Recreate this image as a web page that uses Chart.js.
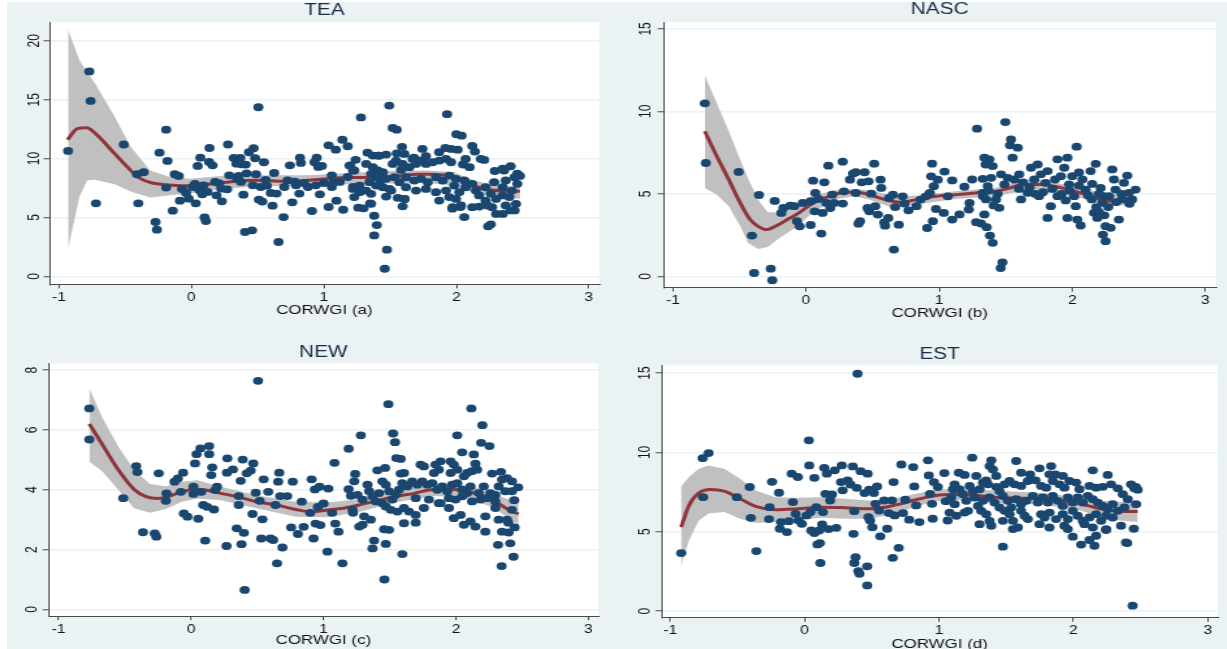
<!DOCTYPE html>
<html>
<head>
<meta charset="utf-8">
<script src="https://cdn.jsdelivr.net/npm/chart.js@4.4.1/dist/chart.umd.min.js"></script>
<style>
  html, body { margin: 0; padding: 0; background: #fff; width: 1227px; height: 649px; overflow: hidden; }
  #bg { position: absolute; left: 7px; top: 2px; right: 0; bottom: 0; background: #eaf2f3; }
  canvas { position: absolute; transform-origin: 0 0; }
</style>
</head>
<body>
<div id="bg"></div>
<canvas id="tea"></canvas>
<canvas id="nasc"></canvas>
<canvas id="new"></canvas>
<canvas id="est"></canvas>
<script>
// ---- shared axis ticks ----
const xTicks = [-1, 0, 1, 2, 3];
const teaYTicks = [0, 5, 10, 15, 20];
const nascYTicks = [0, 5, 10, 15];
const newYTicks = [0, 2, 4, 6, 8];
const estYTicks = [0, 5, 10, 15];

// ---- TEA ----
const teaPoints = [[-0.93,10.65],[-0.77,17.4],[-0.76,14.9],[-0.72,6.2],[-0.51,11.2],[-0.41,8.67],[-0.36,8.84],[-0.40,6.2],[-0.19,12.46],[-0.27,4.62],[-0.26,3.97],[-0.24,10.5],[-0.18,9.8],[-0.19,7.54],[-0.14,5.58],[-0.125,8.67],[-0.095,8.53],[-0.086,6.43],[-0.07,7.42],[-0.04,7.08],[-0.02,6.6],[0.027,7.85],[0.033,6.2],[0.048,9.38],[0.068,10.08],[0.083,6.97],[0.10,5.01],[0.11,4.7],[0.137,10.9],[0.134,9.72],[0.16,9.43],[0.19,6.88],[0.21,7.9],[0.23,6.37],[0.27,7.39],[0.277,11.2],[0.286,8.58],[0.32,10.06],[0.34,9.57],[0.357,8.53],[0.37,10.06],[0.38,9.52],[0.393,6.94],[0.405,3.77],[0.41,9.49],[0.417,8.75],[0.435,10.54],[0.458,3.91],[0.47,10.88],[0.482,10.03],[0.488,8.67],[0.506,14.36],[0.51,6.52],[0.536,6.35],[0.548,9.69],[0.56,8.2],[0.57,7.7],[0.6,7.08],[0.613,6.0],[0.625,8.78],[0.658,2.92],[0.696,5.04],[0.726,8.16],[0.744,9.43],[0.762,6.29],[0.78,8.05],[0.815,7.03],[0.82,10.08],[0.827,9.63],[0.85,7.93],[0.91,5.55],[0.93,9.69],[0.946,10.08],[0.958,9.29],[0.97,6.97],[0.985,9.38],[1.0,7.93],[1.036,11.13],[1.036,5.89],[1.06,8.58],[1.074,8.0],[1.09,10.76],[1.095,6.43],[1.14,11.6],[1.146,5.66],[1.18,11.05],[1.2,9.43],[1.24,9.9],[1.28,13.5],[1.26,5.83],[1.3,5.78],[1.33,10.5],[1.35,6.2],[1.38,5.15],[1.38,3.48],[1.4,4.36],[1.41,10.25],[1.43,8.16],[1.46,0.65],[1.476,2.27],[1.47,10.34],[1.494,14.5],[1.52,12.6],[1.55,12.46],[1.59,11.0],[1.595,5.95],[1.61,6.57],[1.68,10.08],[1.744,10.82],[1.77,10.2],[1.93,13.77],[2.0,12.07],[2.04,11.95],[1.97,5.75],[2.06,5.04],[2.12,11.08],[2.03,5.89],[2.24,4.25],[2.26,4.42],[2.29,8.95],[2.35,9.15],[2.41,9.35],[2.35,5.3],[2.3,5.3],[2.44,5.6],[2.46,8.72],[2.48,8.53],
  [0.009,7.59],[0.062,7.31],[0.092,7.73],[0.122,7.17],[0.18,8.02],[0.226,7.45],[0.345,8.3],[0.375,8.02],[0.464,7.73],[0.524,7.59],[0.643,7.03],[0.702,7.59],[0.79,7.73],[0.88,7.59],[0.94,7.73],[1.06,7.59],[1.12,8.02],[1.18,8.44],[1.22,7.59],[1.22,9.0],
  [2.14,10.6],[1.37,10.26],[1.42,10.26],[1.608,10.4],[1.55,10.45],[1.87,10.54],[1.917,10.9],[1.96,10.82],[2.01,10.76],[2.07,9.97],[2.05,9.5],[2.1,9.27],[2.185,9.97],[2.21,9.89],[2.36,8.99],[2.44,8.42],[2.46,7.86],[1.194,9.41],[1.23,8.99],
  [1.32,9.55],[1.37,9.27],[1.407,8.99],[1.357,8.7],[1.395,8.42],[1.445,8.84],[1.47,8.28],[1.345,8.0],[1.395,7.71],[1.445,7.57],[1.495,7.43],[1.32,7.29],[1.27,7.71],[1.22,7.43],[1.23,6.73],[1.27,7.15],[1.357,7.01],[1.47,6.78],[1.508,7.29],[1.558,6.67],[1.608,6.58],[1.357,6.16],
  [1.52,9.55],[1.545,9.83],[1.595,9.55],[1.583,9.04],[1.646,9.27],[1.696,9.55],[1.67,9.97],[1.733,9.83],[1.771,9.55],[1.821,9.69],[1.871,9.83],[1.922,9.97],[1.96,9.69],
  [1.533,8.42],[1.57,8.0],[1.62,8.42],[1.683,8.14],[1.733,8.28],[1.784,8.0],[1.846,8.42],[1.897,8.14],[1.947,8.56],[1.997,8.28],[2.06,8.14],
  [1.62,7.57],[1.696,7.29],[1.771,7.43],[1.846,7.15],[1.922,7.29],[1.984,7.71],[2.022,7.15],[2.07,7.57],
  [1.871,6.44],[1.972,5.88],[2.035,6.02],[1.947,6.73],[1.997,6.58],
  [2.12,7.86],[2.147,7.29],[2.172,6.87],[2.22,6.44],[2.26,7.01],[2.30,6.58],[2.35,6.87],[2.40,6.73],[2.42,7.29],[2.22,7.57],[2.285,8.0],[2.35,7.57],[2.373,8.14],
  [2.12,5.88],[2.172,5.93],[2.235,6.02],[2.27,5.88],[2.373,6.02],[2.41,5.6],[2.45,6.16]];
const teaFitX = [-0.935,-0.86,-0.79,-0.71,-0.577,-0.458,-0.384,-0.295,-0.19,-0.042,0.107,0.286,0.494,0.70,0.88,1.03,1.18,1.38,1.536,1.714,1.83,1.98,2.07,2.16,2.28,2.40,2.48];
const teaFitY = [11.6,12.55,12.63,11.98,10.4,9.0,8.3,7.93,7.79,7.7,7.82,8.02,8.16,8.07,8.16,8.3,8.39,8.39,8.5,8.67,8.67,8.44,8.02,7.59,7.31,7.25,7.22];
const teaBandX = [-0.93,-0.845,-0.786,-0.726,-0.577,-0.458,-0.31,-0.16,-0.012,0.196,0.494,0.88,1.18,1.476,1.77,1.98,2.13,2.28,2.48];
const teaBandHi = [20.96,18.36,17.36,16.37,13.54,11.0,9.0,8.44,8.3,8.5,8.58,8.58,8.78,8.95,9.0,8.87,8.16,7.73,7.59];
const teaBandLo = [2.35,6.74,8.16,8.2,7.82,7.2,6.69,6.88,7.03,7.37,7.65,7.7,7.82,7.88,7.93,7.73,7.08,6.8,6.6];

// ---- NASC ----
const nascPoints = [[-0.76,10.49],[-0.753,6.87],[-0.506,6.33],[-0.406,2.47],[-0.39,0.2],[-0.353,4.93],[-0.265,0.46],[-0.253,-0.24],[-0.235,4.57],[-0.185,3.84],[-0.17,4.14],[-0.118,4.29],[-0.088,4.25],[-0.068,3.34],[-0.047,3.03],[-0.024,4.45],[0.035,3.11],[0.035,4.55],[0.053,5.8],[0.07,5.05],[0.065,3.94],[0.094,4.69],[0.115,2.59],[0.124,3.84],[0.138,5.7],[0.153,4.45],[0.168,6.71],[0.182,4.14],[0.197,4.95],[0.212,4.45],[0.276,6.95],[0.276,4.41],[0.285,5.15],[0.33,5.86],[0.353,6.23],[0.374,6.31],[0.374,5.05],[0.394,3.19],[0.406,3.34],[0.418,5.7],[0.44,6.31],[0.462,4.14],[0.47,5.76],[0.476,3.94],[0.49,5.01],[0.512,6.83],[0.52,4.25],[0.54,3.74],[0.56,5.86],[0.565,5.36],[0.588,3.27],[0.594,3.07],[0.618,3.54],[0.624,4.75],[0.66,1.62],[0.653,4.95],[0.67,4.2],[0.697,3.13],[0.726,4.85],[0.74,4.41],[0.77,4.0],[0.83,4.25],[0.86,4.65],[0.9,4.85],[0.91,2.93],[0.93,5.05],[0.947,6.83],[0.953,3.34],[0.94,6.06],[0.96,5.46],[0.976,4.08],[0.99,5.86],[1.035,3.84],[1.04,6.35],[1.065,4.85],
  [1.098,5.81],[1.098,3.44],[1.153,3.75],[1.19,5.43],[1.228,4.45],[1.223,4.05],[1.248,5.87],[1.278,3.28],[1.315,3.2],[1.328,5.91],[1.328,5.06],[1.34,7.19],[1.35,6.78],[1.378,7.09],[1.402,6.68],[1.39,5.97],[1.365,5.47],[1.352,4.66],[1.34,3.75],[1.357,2.98],[1.382,2.47],[1.402,2.03],[1.427,4.66],[1.452,4.15],[1.465,6.18],[1.49,5.57],[1.515,5.97],[1.54,8.3],[1.532,7.94],[1.59,7.8],[1.552,7.19],[1.565,5.87],[1.602,6.18],[1.615,4.66],[1.664,5.06],[1.69,6.58],[1.714,5.87],[1.74,6.78],[1.75,4.86],[1.764,6.18],[1.8,5.67],[1.814,6.38],[1.814,3.54],[1.839,4.25],[1.871,5.87],[1.889,7.09],[1.889,4.86],[1.914,6.07],[1.94,6.58],[1.964,7.19],[1.964,3.54],[1.976,5.57],[2.0,6.07],[2.014,4.86],[2.026,4.25],[2.033,7.86],[2.038,3.44],[2.063,3.08],[2.076,5.87],[2.1,5.26],[2.138,6.38],[2.146,4.66],[2.163,3.85],[2.176,6.82],[2.188,3.54],[2.213,5.36],[2.226,4.45],[2.23,2.53],[2.238,4.86],[2.25,3.04],[2.25,2.13],[2.276,4.86],[2.288,2.94],[2.3,6.48],[2.313,5.87],[2.325,5.26],[2.35,3.44],[2.375,4.66],[2.388,5.67],[2.413,6.11],[2.425,5.06],[2.45,4.66],[2.475,5.26],[1.285,8.95],[1.497,9.35],[1.462,0.5],[1.476,0.85],
  [1.33,4.86],[1.37,5.2],[1.41,4.3],[1.44,5.0],[1.60,5.3],[1.63,5.7],[1.68,5.4],[1.72,5.0],[1.78,5.1],[1.85,5.3],[1.92,5.0],[1.95,4.6],[2.05,5.5],[2.12,4.9],[2.18,4.2],[2.2,3.9],[2.24,3.7],[2.27,4.2],[2.33,4.5],[2.37,5.0],[2.43,4.4],[2.2,5.0],[2.15,5.6],[2.05,6.3],[1.98,5.2]];
const nascFitX = [-0.76,-0.67,-0.58,-0.494,-0.42,-0.36,-0.294,-0.23,-0.14,-0.053,0.035,0.124,0.21,0.3,0.388,0.476,0.594,0.71,0.83,0.976,1.12,1.27,1.418,1.535,1.62,1.77,1.92,2.065,2.18,2.27,2.36,2.46];
const nascFitY = [8.79,7.28,5.86,4.45,3.44,3.03,2.83,3.03,3.44,3.84,4.35,4.69,4.95,5.09,5.09,4.95,4.65,4.49,4.65,4.85,4.95,5.05,5.15,5.36,5.56,5.56,5.36,5.05,4.75,4.55,4.65,4.75];
const nascBandX = [-0.76,-0.67,-0.58,-0.494,-0.435,-0.36,-0.288,-0.2,-0.082,0.035,0.21,0.36,0.476,0.653,0.83,1.12,1.418,1.62,1.77,2.065,2.27,2.46];
const nascBandHi = [12.17,10.51,8.79,7.07,5.93,4.65,3.88,3.88,4.3,4.83,5.22,5.3,5.22,4.89,4.89,5.15,5.36,5.86,5.86,5.36,4.95,5.09];
const nascBandLo = [5.36,4.95,4.25,3.03,2.02,1.66,1.78,2.32,2.93,3.74,4.65,4.85,4.65,4.14,4.35,4.69,4.85,5.15,5.15,4.75,4.25,4.35];

// ---- NEW ----
const newPoints = [[-0.768,6.72],[-0.768,5.68],[-0.512,3.72],[-0.414,4.79],[-0.405,4.59],[-0.363,2.58],[-0.274,2.54],[-0.262,2.43],[-0.244,4.55],[-0.19,3.63],[-0.185,3.88],[-0.125,4.27],[-0.1,4.38],[-0.077,3.93],[-0.06,4.57],[-0.054,3.21],[-0.027,3.1],[0.018,4.1],[0.03,4.88],[0.018,3.86],[0.042,5.19],[0.054,3.03],[0.071,5.38],[0.077,3.93],[0.092,3.49],[0.107,2.3],[0.122,3.43],[0.137,5.46],[0.137,5.19],[0.152,4.49],[0.16,4.75],[0.173,3.34],[0.182,3.99],[0.196,4.1],[0.268,2.12],[0.274,5.05],[0.271,4.57],[0.316,4.68],[0.345,2.71],[0.36,3.49],[0.36,3.79],[0.375,4.3],[0.381,2.18],[0.39,5.01],[0.399,2.56],[0.405,0.65],[0.42,4.55],[0.45,4.64],[0.47,4.88],[0.464,3.19],[0.488,3.9],[0.506,7.64],[0.518,3.63],[0.53,2.37],[0.539,3.01],[0.548,4.35],[0.583,3.93],[0.6,2.37],[0.62,2.32],[0.637,3.49],[0.649,1.54],[0.658,4.27],[0.666,4.57],[0.673,3.79],[0.69,2.07],[0.726,3.79],[0.756,2.74],[0.768,4.27],[0.807,2.52],[0.836,3.6],[0.85,2.76],[0.9,3.23],[0.91,4.35],[0.925,2.37],[0.935,4.01],[0.94,2.87],[0.958,3.43],[0.97,4.1],[0.976,2.82],[1.0,3.54],[1.03,1.93],[1.036,4.04],[1.065,3.23],[1.083,4.9],[1.089,2.87],[1.113,2.6],
  [1.143,1.54],[1.223,3.23],[1.46,1.0],[1.49,6.86],[2.116,6.72],[2.34,4.6],[2.345,1.45],[2.396,2.9],[2.44,3.65],[2.443,2.74],[2.47,4.08],
  [1.282,5.82],[1.525,5.88],[1.54,5.59],[1.19,5.37],[2.01,5.82],[2.2,6.16],[2.19,5.57],[2.253,5.46],[2.047,5.25],[2.135,5.18],[1.55,5.06],[1.583,5.03],[1.407,4.65],[1.465,4.73],[1.733,4.84],[1.758,4.78],[1.846,4.84],[1.884,4.95],[1.96,4.95],[1.984,4.84],[2.147,4.87],[2.16,4.67],
  [1.239,4.53],[1.232,4.28],[1.445,4.28],[1.583,4.54],[1.608,4.56],[1.834,4.56],[1.871,4.67],[1.96,4.56],[2.01,4.67],[2.06,4.45],[2.085,4.56],[2.12,4.62],[2.273,4.54],[2.348,4.34],[2.386,4.39],[2.423,4.28],
  [1.19,4.02],[1.207,3.8],[1.257,3.83],[1.295,3.67],[1.332,4.17],[1.345,3.95],[1.37,3.78],[1.395,3.61],[1.42,3.89],[1.445,3.55],[1.47,4.17],[1.495,3.95],[1.52,3.67],[1.545,3.83],[1.57,4.0],[1.595,4.22],
  [1.633,4.11],[1.67,4.28],[1.708,4.17],[1.746,4.28],[1.784,4.17],[1.821,4.22],[1.859,4.0],[1.897,4.11],[1.934,3.95],[1.972,4.17],[2.01,4.22],[2.047,4.0],[2.085,3.89],[2.11,4.11],[2.172,3.89],[2.21,4.11],[2.26,3.89],[2.298,3.83],[2.323,4.11],[2.373,3.95],[2.423,3.95],
  [1.696,3.72],[1.796,3.67],[1.871,3.55],[1.947,3.72],[1.997,3.67],[2.047,3.78],[2.122,3.61],[2.185,3.67],[2.235,3.72],[2.298,3.61],
  [1.22,3.33],[1.307,3.11],[1.357,3.0],[1.47,3.44],[1.508,3.33],[1.558,3.27],[1.608,3.39],[1.646,3.27],[1.696,3.16],[1.758,3.39],
  [1.884,3.55],[1.947,3.39],[1.984,3.05],[2.035,3.16],[2.06,2.83],[2.11,2.94],[2.147,2.77],[2.222,3.11],[2.298,3.39],[2.323,3.0],[2.386,3.0],[2.423,3.33],
  [1.27,2.77],[1.295,2.83],[1.458,2.68],[1.495,2.66],[1.608,2.88],[1.696,2.9],[2.222,2.6],[2.348,2.6],[2.398,2.57],
  [1.382,2.3],[1.37,2.04],[1.47,2.19],[1.595,1.85],[2.318,2.16],[2.41,2.21],[2.435,1.76]];
const newFitX = [-0.768,-0.667,-0.548,-0.43,-0.34,-0.25,-0.16,-0.071,0.018,0.107,0.226,0.345,0.494,0.643,0.79,0.91,1.03,1.149,1.268,1.417,1.536,1.685,1.833,1.982,2.13,2.28,2.4,2.473];
const newFitY = [6.2,5.49,4.66,4.01,3.77,3.71,3.79,3.93,4.01,3.99,3.88,3.77,3.6,3.49,3.34,3.26,3.32,3.38,3.49,3.65,3.77,3.88,4.01,4.01,3.9,3.65,3.32,3.19];
const newBandX = [-0.768,-0.667,-0.548,-0.43,-0.31,-0.19,-0.071,0.048,0.226,0.494,0.79,1.03,1.268,1.536,1.833,1.982,2.13,2.28,2.473];
const newBandHi = [7.39,6.38,5.44,4.66,4.19,4.12,4.27,4.32,4.1,3.82,3.6,3.57,3.68,3.93,4.19,4.21,4.1,3.88,3.54];
const newBandLo = [4.94,4.6,3.99,3.38,3.23,3.36,3.6,3.71,3.65,3.38,3.1,3.08,3.26,3.57,3.79,3.77,3.65,3.41,2.82];

// ---- EST ----
const estPoints = [[-0.918,3.66],[-0.758,9.64],[-0.714,9.96],[-0.755,7.18],[-0.504,7.18],[-0.408,7.82],[-0.4,5.88],[-0.359,3.78],[-0.265,5.8],[-0.26,6.55],[-0.242,8.15],[-0.19,7.46],[-0.184,5.19],[-0.175,5.61],[-0.131,4.98],[-0.117,5.67],[-0.096,8.66],[-0.087,6.87],[-0.067,6.13],[-0.05,8.45],[-0.044,5.71],[-0.02,5.5],[0.015,6.03],[0.032,10.76],[0.035,9.18],[0.044,6.24],[0.05,5.08],[0.073,8.4],[0.073,4.92],[0.087,6.55],[0.096,4.2],[0.108,5.08],[0.114,4.29],[0.117,3.03],[0.131,5.46],[0.137,6.24],[0.146,9.03],[0.155,7.39],[0.166,8.66],[0.178,5.17],[0.19,6.97],[0.204,7.35],[0.224,8.87],[0.236,5.25],[0.277,9.18],[0.271,8.13],[0.283,7.61],[0.32,8.24],[0.341,7.98],[0.359,9.12],[0.364,4.87],[0.37,6.3],[0.379,3.4],[0.37,3.03],[0.388,7.77],[0.394,14.96],[0.4,2.52],[0.408,2.35],[0.417,8.82],[0.446,7.44],[0.466,1.62],[0.466,2.82],[0.469,8.66],[0.475,5.92],[0.48,7.65],[0.487,5.71],[0.504,5.29],[0.516,7.44],[0.528,6.76],[0.539,7.86],[0.554,6.34],[0.563,4.71],[0.592,6.97],[0.615,5.19],[0.627,6.18],[0.65,6.97],[0.656,3.36],[0.662,8.13],[0.67,6.03],[0.7,3.99],[0.72,9.24],[0.732,6.18],[0.749,7.02],[0.778,5.76],[0.808,9.08],[0.816,7.86],[0.83,6.66],[0.854,5.61],[0.918,9.5],[0.924,8.55],[0.933,7.39],[0.948,6.76],[0.953,5.82],[0.962,8.13],[0.991,7.82],[1.04,8.7],[1.05,6.93],[1.064,5.71],
  [2.44,0.34],[2.4,4.29],[2.449,5.19],[2.478,7.65],[2.464,7.82],
  [1.247,9.67],[1.389,9.5],[1.376,9.14],[1.401,8.93],[1.148,8.72],[1.19,8.58],[1.277,8.52],[1.351,8.24],[1.364,7.99],[1.426,8.52],[1.574,9.46],[1.611,8.72],[1.678,8.62],[1.748,9.0],[1.834,9.14],[1.866,8.62],[1.921,8.52],[1.822,8.62],[2.144,8.87],[2.255,8.58],
  [1.116,7.99],[1.104,7.68],[1.153,7.68],[1.228,7.89],[1.252,7.57],[1.302,7.68],[1.327,8.1],
  [1.426,7.83],[1.45,7.57],[1.488,7.99],[1.525,8.2],[1.562,7.99],[1.611,7.89],[1.661,8.2],[1.718,8.24],
  [1.76,7.89],[1.797,7.78],[1.847,8.2],[1.896,7.99],[1.933,7.78],[1.971,8.2],[2.02,8.1],[2.045,7.68],
  [2.119,7.89],[2.169,7.78],[2.218,7.83],[2.28,7.99],[2.33,7.74],[2.367,7.37],[2.429,7.99],[2.453,7.74],
  [1.091,7.16],[1.116,6.74],[1.178,7.37],[1.203,6.95],[1.265,7.16],[1.29,6.63],[1.327,6.95],[1.376,7.16],[1.413,6.84],[1.45,6.53],[1.475,7.26],[1.512,6.95],[1.537,6.53],
  [1.574,7.05],[1.611,6.74],[1.649,6.95],[1.698,7.26],[1.735,6.84],[1.772,7.16],[1.81,6.84],[1.847,7.26],[1.884,6.95],[1.921,6.63],[1.958,7.16],[1.995,6.84],[2.032,7.16],[2.07,6.84],[2.107,7.26],[2.144,7.05],
  [2.181,6.84],[2.218,6.63],[2.255,6.42],[2.292,6.74],[2.33,6.32],[2.379,6.53],[2.404,7.05],[2.466,6.74],
  [1.079,6.21],[1.129,6.01],[1.19,6.21],[1.215,6.32],[1.314,6.32],[1.351,6.11],[1.376,5.69],[1.488,6.32],[1.525,6.11],[1.55,5.69],[1.611,6.32],[1.636,6.01],
  [1.76,6.11],[1.785,5.9],[1.822,6.21],[1.871,5.8],[1.921,6.11],[1.958,5.8],[1.995,6.32],[2.032,6.01],[2.07,5.69],[2.119,5.9],[2.169,6.11],[2.206,5.69],[2.243,6.01],[2.292,5.9],
  [1.302,5.48],[1.389,5.38],[1.475,5.69],[1.55,5.17],[1.587,5.27],[1.661,5.8],[1.748,5.48],[1.822,5.27],[1.933,5.38],[1.958,5.17],[2.082,5.48],[2.144,5.27],[2.243,5.17],[2.354,5.38],
  [1.995,4.69],[2.057,4.19],[2.119,4.48],[2.169,4.75],[2.156,4.12],[2.243,5.11],[2.391,4.33],[1.475,4.06]];
const estFitX = [-0.918,-0.86,-0.787,-0.7,-0.598,-0.48,-0.364,-0.219,-0.044,0.131,0.306,0.48,0.598,0.714,0.83,0.977,1.122,1.268,1.414,1.589,1.764,1.91,2.055,2.2,2.347,2.478];
const estFitY = [5.29,6.66,7.44,7.67,7.56,7.08,6.6,6.39,6.45,6.55,6.51,6.45,6.55,6.76,7.02,7.29,7.35,7.29,7.18,7.12,7.08,6.97,6.76,6.45,6.3,6.28];
const estBandX = [-0.918,-0.86,-0.787,-0.714,-0.598,-0.48,-0.364,-0.219,-0.044,0.131,0.306,0.48,0.656,0.83,0.977,1.122,1.414,1.764,2.055,2.2,2.347,2.478];
const estBandHi = [7.86,8.45,8.97,9.18,8.97,8.34,7.6,7.18,7.14,7.18,7.08,6.97,7.08,7.39,7.65,7.71,7.6,7.44,7.18,6.97,6.87,6.87];
const estBandLo = [2.88,4.45,5.71,6.15,6.24,5.82,5.55,5.61,5.76,5.88,5.82,5.82,6.09,6.6,6.93,7.02,6.81,6.72,6.34,5.92,5.71,5.61];

// ---- look ----
const STRETCH = 1.3;   // the original graph was widened horizontally
const FONT = "'Liberation Sans', Arial, sans-serif";
const DOT = '#1a476f';
const FIT = '#90353b';
const BAND = 'rgb(192,192,192)';
const AXIS = '#4a4a4a';
const GRID = '#eaf2f3';

const toXY = (xs, ys) => xs.map((x, i) => ({ x, y: ys[i] }));

const plotBg = {
    id: 'plotBg',
    beforeDraw(chart) {
        const { ctx, chartArea: a } = chart;
        ctx.save();
        ctx.fillStyle = '#fff';
        ctx.fillRect(a.left, a.top, a.right - a.left, a.bottom - a.top);
        ctx.restore();
    }
};

const makePanel = (id, p) => {
    const yAxisW = 28;
    const left = p.box.l - yAxisW * STRETCH;
    const top = p.titleY - 9.6;
    const H = Math.round(p.xTitleY + 7.8 - top);
    const W = Math.ceil((p.box.r - left) / STRETCH) + 2;
    const padRight = W - (p.box.r - left) / STRETCH;
    const xAxisH = H - (p.box.b - top);
    const titlePad = p.box.t - top - 19.2;

    const canvas = document.getElementById(id);
    canvas.width = W;
    canvas.height = H;
    canvas.style.left = left + 'px';
    canvas.style.top = top + 'px';
    canvas.style.width = W + 'px';
    canvas.style.height = H + 'px';
    canvas.style.transform = `scaleX(${STRETCH})`;

    return new Chart(canvas, {
        type: 'scatter',
        data: {
            datasets: [
                { type: 'line', data: toXY(p.bandX, p.bandLo), borderWidth: 0, pointRadius: 0, fill: false, order: 3 },
                { type: 'line', data: toXY(p.bandX, p.bandHi), borderWidth: 0, pointRadius: 0, fill: 0, backgroundColor: BAND, order: 3 },
                { type: 'line', data: toXY(p.fitX, p.fitY), borderColor: FIT, borderWidth: 3, pointRadius: 0, fill: false, cubicInterpolationMode: 'monotone', order: 2 },
                { data: p.points.map(([x, y]) => ({ x, y })), backgroundColor: DOT, pointRadius: 3.9, borderWidth: 0, order: 1 }
            ]
        },
        options: {
            responsive: false,
            animation: false,
            events: [],
            layout: { padding: { left: 0, top: 0, right: padRight, bottom: 0 } },
            plugins: {
                legend: { display: false },
                tooltip: { enabled: false },
                title: {
                    display: true, text: p.title, color: '#1e2b48', fullSize: false,
                    font: { family: FONT, size: 16, weight: 'normal' },
                    padding: { top: 0, bottom: titlePad }
                }
            },
            scales: {
                x: {
                    type: 'linear', min: p.xMin, max: p.xMax,
                    afterBuildTicks: s => { s.ticks = xTicks.map(v => ({ value: v })); },
                    afterFit: s => { s.height = xAxisH; },
                    grid: { drawOnChartArea: false, drawTicks: true, tickLength: 4, tickColor: AXIS, tickWidth: 1 },
                    border: { display: true, color: AXIS, width: 1 },
                    ticks: { color: '#111', font: { family: FONT, size: 12 }, padding: 2, maxRotation: 0, autoSkip: false },
                    title: { display: true, text: p.xTitle, color: '#111', font: { family: FONT, size: 13 }, padding: { top: 0, bottom: 0 } }
                },
                y: {
                    type: 'linear', min: p.yMin, max: p.yMax,
                    afterBuildTicks: s => { s.ticks = p.yTicks.map(v => ({ value: v })); },
                    afterFit: s => { s.width = yAxisW; },
                    grid: { color: GRID, lineWidth: 1.5, drawTicks: true, tickLength: 4.5, tickColor: AXIS, tickWidth: 1 },
                    border: { display: true, color: AXIS, width: 1 },
                    ticks: { color: '#111', font: { family: FONT, size: 12 }, minRotation: 90, maxRotation: 90, crossAlign: 'center', padding: p.yPad }
                }
            }
        },
        plugins: [plotBg]
    });
};

makePanel('tea', {
    title: 'TEA', xTitle: 'CORWGI (a)',
    box: { l: 49, t: 22, r: 601, b: 284.3 }, titleY: 10.5, xTitleY: 310,
    xMin: -1.071, xMax: 3.079, yMin: -0.68, yMax: 21.59, yTicks: teaYTicks, yPad: 0,
    points: teaPoints, fitX: teaFitX, fitY: teaFitY, bandX: teaBandX, bandLo: teaBandLo, bandHi: teaBandHi
});
makePanel('nasc', {
    title: 'NASC', xTitle: 'CORWGI (b)',
    box: { l: 663.5, t: 22.7, r: 1218, b: 288 }, titleY: 10, xTitleY: 313.5,
    xMin: -1.071, xMax: 3.079, yMin: -0.685, yMax: 15.4, yTicks: nascYTicks, yPad: 2,
    points: nascPoints, fitX: nascFitX, fitY: nascFitY, bandX: nascBandX, bandLo: nascBandLo, bandHi: nascBandHi
});
makePanel('new', {
    title: 'NEW', xTitle: 'CORWGI (c)',
    box: { l: 48.2, t: 363.3, r: 599.6, b: 616 }, titleY: 352.5, xTitleY: 640.5,
    xMin: -1.077, xMax: 3.075, yMin: -0.224, yMax: 8.224, yTicks: newYTicks, yPad: 4.7,
    points: newPoints, fitX: newFitX, fitY: newFitY, bandX: newBandX, bandLo: newBandLo, bandHi: newBandHi
});
makePanel('est', {
    title: 'EST', xTitle: 'CORWGI (d)',
    box: { l: 661, t: 365, r: 1219, b: 617.3 }, titleY: 354.2, xTitleY: 643.5,
    xMin: -1.065, xMax: 3.074, yMin: -0.416, yMax: 15.485, yTicks: estYTicks, yPad: 0.9,
    points: estPoints, fitX: estFitX, fitY: estFitY, bandX: estBandX, bandLo: estBandLo, bandHi: estBandHi
});
</script>
</body>
</html>
